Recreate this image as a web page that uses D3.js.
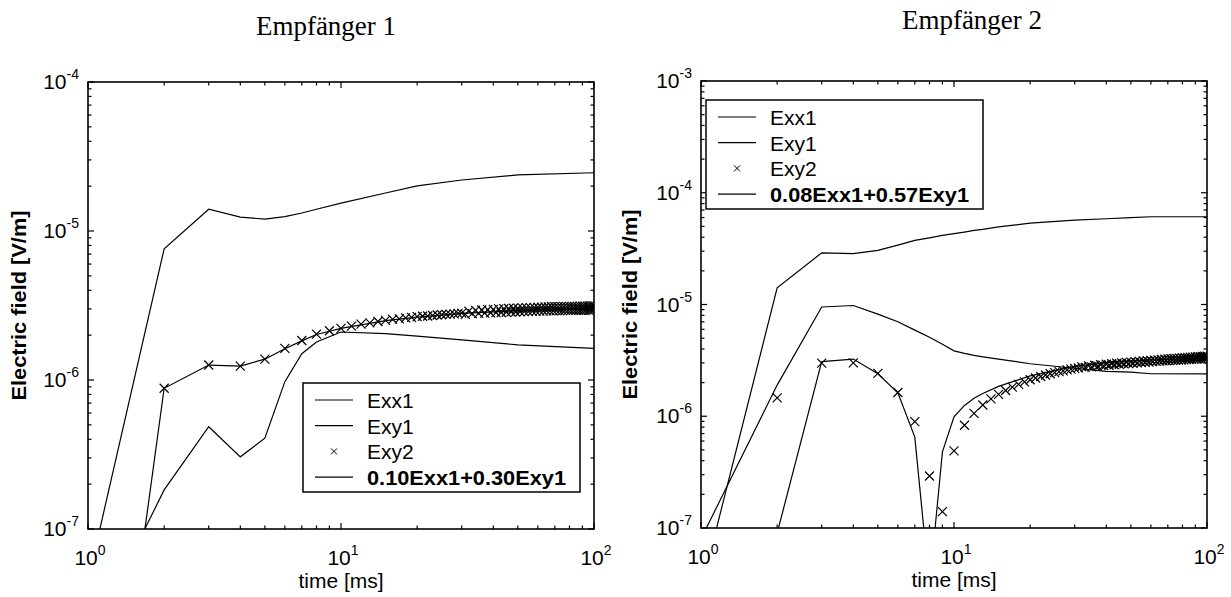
<!DOCTYPE html>
<html>
<head>
<meta charset="utf-8">
<script src="https://cdn.jsdelivr.net/npm/d3@7"></script>
<style>
  body { margin: 0; background: #fff; }
  text { font-family: "Liberation Sans", Arial, sans-serif; fill: #000; }
</style>
</head>
<body>
<script>
const WIDTH = 1231
const HEIGHT = 597
const U = 1e-6 // marker values are stored in µV/m

// ---- Empfänger 1 ----
const timeL = [1, 2, 3, 4, 5, 6, 7, 8, 10, 15, 20, 30, 50, 100]
const exx1L = [4.5e-8, 7.6e-6, 1.4e-5, 1.24e-5, 1.2e-5, 1.25e-5, 1.32e-5, 1.4e-5, 1.54e-5, 1.8e-5, 2.01e-5, 2.2e-5, 2.38e-5, 2.46e-5]
const exy1L = [1.7e-8, 1.83e-7, 4.86e-7, 3.05e-7, 4.07e-7, 9.75e-7, 1.5e-6, 1.8e-6, 2.1e-6, 2.05e-6, 1.97e-6, 1.86e-6, 1.72e-6, 1.63e-6]
const combL = [1.6e-10, 8.8e-7, 1.26e-6, 1.24e-6, 1.38e-6, 1.62e-6, 1.83e-6, 2.02e-6, 2.22e-6, 2.5e-6, 2.64e-6, 2.8e-6, 2.92e-6, 3.0e-6]
// Exy2 markers at t = 2..100 ms
const exy2L = [0.88, 1.26, 1.24, 1.38, 1.63, 1.84, 2.03, 2.14, 2.22,
  2.30, 2.37, 2.42, 2.47, 2.51, 2.55, 2.57, 2.61, 2.63, 2.66,
  2.68, 2.69, 2.71, 2.73, 2.74, 2.76, 2.77, 2.78, 2.80, 2.81,
  2.76, 2.90, 2.79, 2.93, 2.80, 2.95, 2.81, 2.97, 2.82, 2.98,
  2.83, 3.00, 2.84, 3.01, 2.85, 3.02, 2.86, 3.03, 2.86, 3.04,
  2.87, 3.05, 2.88, 3.06, 2.88, 3.06, 2.89, 3.07, 2.89, 3.08,
  2.90, 3.08, 2.90, 3.09, 2.91, 3.09, 2.91, 3.10, 2.91, 3.10,
  2.92, 3.10, 2.92, 3.11, 2.92, 3.11, 2.93, 3.11, 2.93, 3.12,
  2.93, 3.12, 2.93, 3.12, 2.94, 3.12, 2.94, 3.13, 2.94, 3.13,
  2.94, 3.13, 2.95, 3.13, 2.95, 3.14, 2.95, 3.14, 2.95, 3.14]

// ---- Empfänger 2 ----
const timeR = [1, 2, 3, 4, 5, 6, 7, 8, 9, 10, 11, 12, 13, 15, 20, 30, 40, 50, 60, 100]
const exx1R = [2.8e-8, 1.41e-5, 2.9e-5, 2.85e-5, 3.05e-5, 3.4e-5, 3.75e-5, 3.95e-5, 4.15e-5, 4.3e-5, 4.45e-5, 4.6e-5, 4.7e-5, 4.95e-5, 5.35e-5, 5.7e-5, 5.85e-5, 6.0e-5, 6.1e-5, 6.1e-5]
const exy1R = [8e-8, 1.9e-6, 9.5e-6, 9.8e-6, 8.2e-6, 7.0e-6, 5.9e-6, 5.1e-6, 4.4e-6, 3.85e-6, 3.65e-6, 3.5e-6, 3.4e-6, 3.25e-6, 2.95e-6, 2.69e-6, 2.52e-6, 2.48e-6, 2.4e-6, 2.39e-6]
const combR = [5e-8, 9e-8, 3.08e-6, 3.25e-6, 2.4e-6, 1.62e-6, 6.5e-7, 3e-8, 4.8e-7, 9.9e-7, 1.25e-6, 1.45e-6, 1.6e-6, 1.85e-6, 2.3e-6, 2.8e-6, 3.0e-6, 3.12e-6, 3.2e-6, 3.3e-6]
const exy2R = [1.46, 2.99, 3.00, 2.42, 1.63, 0.895, 0.292, 0.14, 0.49,
  0.83, 1.06, 1.26, 1.43, 1.57, 1.70, 1.82, 1.93, 2.03, 2.12,
  2.20, 2.27, 2.34, 2.40, 2.46, 2.51, 2.55, 2.60, 2.64, 2.68,
  2.71, 2.78, 2.74, 2.82, 2.77, 2.86, 2.80, 2.89, 2.84, 2.92,
  2.86, 2.95, 2.89, 2.98, 2.92, 3.00, 2.94, 3.03, 2.96, 3.05,
  2.98, 3.08, 3.00, 3.10, 3.02, 3.12, 3.04, 3.14, 3.06, 3.16,
  3.08, 3.18, 3.10, 3.20, 3.11, 3.22, 3.13, 3.24, 3.14, 3.26,
  3.15, 3.27, 3.16, 3.29, 3.17, 3.30, 3.18, 3.31, 3.19, 3.33,
  3.20, 3.34, 3.21, 3.36, 3.22, 3.37, 3.23, 3.38, 3.24, 3.40,
  3.25, 3.41, 3.26, 3.42, 3.27, 3.43, 3.28, 3.44, 3.29, 3.45]

const markerTimes = d3.range(2, 101)
const legendNames = ["Exx1", "Exy1", "Exy2"]

const svg = d3.select("body").append("svg")
    .attr("width", WIDTH)
    .attr("height", HEIGHT)

const cross = "M-4.5,-4.5L4.5,4.5M-4.5,4.5L4.5,-4.5"

function panel(p) {
    const x = d3.scaleLog().domain([1, 100]).range([p.left, p.right])
    const y = d3.scaleLog().domain(p.yDomain).range([p.bottom, p.top])
    const g = svg.append("g")

    g.append("clipPath").attr("id", p.id)
        .append("rect")
        .attr("x", p.left).attr("y", p.top)
        .attr("width", p.right - p.left).attr("height", p.bottom - p.top)

    // title
    svg.append("text")
        .attr("x", p.titleX).attr("y", p.titleY)
        .attr("text-anchor", "middle")
        .style("font-family", "'Liberation Serif', 'Times New Roman', serif")
        .style("font-size", "27px")
        .text(p.title)

    // curves
    const line = d3.line()
        .x((d, i) => x(p.time[i]))
        .y(d => y(d))
    const plot = g.append("g").attr("clip-path", `url(#${p.id})`)
    ;[p.exx1, p.exy1, p.comb].forEach(s => {
        plot.append("path")
            .attr("d", line(s))
            .attr("fill", "none")
            .attr("stroke", "#000")
            .attr("stroke-width", 1.2)
    })
    plot.selectAll(".mk")
        .data(p.exy2)
        .enter()
        .append("path")
        .attr("transform", (d, i) => `translate(${x(markerTimes[i])},${y(d * U)})`)
        .attr("d", cross)
        .attr("stroke", "#000")
        .attr("stroke-width", 1.2)

    // ticks (inward, all four sides)
    const isMajor = v => Math.abs(Math.log10(v) - Math.round(Math.log10(v))) < 1e-9
    x.ticks().forEach(v => {
        const len = isMajor(v) ? 6 : 3.5
        g.append("line").attr("x1", x(v)).attr("x2", x(v)).attr("y1", p.bottom).attr("y2", p.bottom - len)
            .attr("stroke", "#000").attr("stroke-width", 1.2)
        g.append("line").attr("x1", x(v)).attr("x2", x(v)).attr("y1", p.top).attr("y2", p.top + len)
            .attr("stroke", "#000").attr("stroke-width", 1.2)
    })
    y.ticks().forEach(v => {
        const len = isMajor(v) ? 6 : 3.5
        g.append("line").attr("y1", y(v)).attr("y2", y(v)).attr("x1", p.left).attr("x2", p.left + len)
            .attr("stroke", "#000").attr("stroke-width", 1.2)
        g.append("line").attr("y1", y(v)).attr("y2", y(v)).attr("x1", p.right).attr("x2", p.right - len)
            .attr("stroke", "#000").attr("stroke-width", 1.2)
    })

    // frame
    g.append("rect")
        .attr("x", p.left).attr("y", p.top)
        .attr("width", p.right - p.left).attr("height", p.bottom - p.top)
        .attr("fill", "none").attr("stroke", "#000").attr("stroke-width", 1.6)

    // tick labels
    const decX = x.ticks().filter(isMajor)
    decX.forEach(v => {
        const t = g.append("text")
            .attr("x", x(v) + 2).attr("y", p.bottom + 36)
            .attr("text-anchor", "middle")
            .style("font-size", "21px")
        t.append("tspan").text("10")
        t.append("tspan").attr("dy", -10).style("font-size", "14px").text(Math.round(Math.log10(v)))
    })
    const decY = y.ticks().filter(isMajor)
    decY.forEach(v => {
        const t = g.append("text")
            .attr("x", p.left - 9).attr("y", y(v) + 7)
            .attr("text-anchor", "end")
            .style("font-size", "21px")
        t.append("tspan").text("10")
        t.append("tspan").attr("dy", -10).style("font-size", "14px").text("-" + Math.abs(Math.round(Math.log10(v))))
    })

    // axis titles
    g.append("text")
        .attr("x", (p.left + p.right) / 2).attr("y", p.bottom + 59)
        .attr("text-anchor", "middle")
        .style("font-size", "21px")
        .text("time [ms]")
    g.append("text")
        .attr("transform", `translate(${p.yLabelX},${(p.top + p.bottom) / 2}) rotate(-90)`)
        .attr("text-anchor", "middle")
        .attr("textLength", 190)
        .attr("lengthAdjust", "spacingAndGlyphs")
        .style("font-size", "20px")
        .style("font-weight", "bold")
        .text("Electric field [V/m]")

    // legend
    const lg = g.append("g").attr("transform", `translate(${p.legX},${p.legY})`)
    lg.append("rect")
        .attr("width", 277).attr("height", 109)
        .attr("fill", "#fff").attr("stroke", "#000").attr("stroke-width", 1.5)
    const rows = legendNames.concat([p.combName])
    rows.forEach((name, i) => {
        const cy = 17 + i * 25.7
        if (i === 2) {
            lg.append("path").attr("transform", `translate(31,${cy})`)
                .attr("d", "M-3,-3L3,3M-3,3L3,-3").attr("stroke", "#000").attr("stroke-width", 1)
        } else {
            lg.append("line").attr("x1", 12).attr("x2", 50).attr("y1", cy).attr("y2", cy)
                .attr("stroke", "#000").attr("stroke-width", 1.2)
        }
        const t = lg.append("text")
            .attr("x", 64).attr("y", cy + 8)
            .style("font-size", "21px")
            .text(name)
        if (i === 3) t.style("font-weight", "bold").attr("textLength", 199).attr("lengthAdjust", "spacingAndGlyphs")
    })
}

panel({
    id: "clipL", left: 88, right: 594, top: 82, bottom: 529,
    yDomain: [1e-7, 1e-4],
    title: "Empfänger 1", titleX: 326, titleY: 35,
    time: timeL, exx1: exx1L, exy1: exy1L, comb: combL, exy2: exy2L,
    yLabelX: 26, legX: 303, legY: 383,
    combName: "0.10Exx1+0.30Exy1"
})

panel({
    id: "clipR", left: 701, right: 1207, top: 81, bottom: 528,
    yDomain: [1e-7, 1e-3],
    title: "Empfänger 2", titleX: 972, titleY: 29,
    time: timeR, exx1: exx1R, exy1: exy1R, comb: combR, exy2: exy2R,
    yLabelX: 637, legX: 706, legY: 100,
    combName: "0.08Exx1+0.57Exy1"
})
</script>
</body>
</html>
